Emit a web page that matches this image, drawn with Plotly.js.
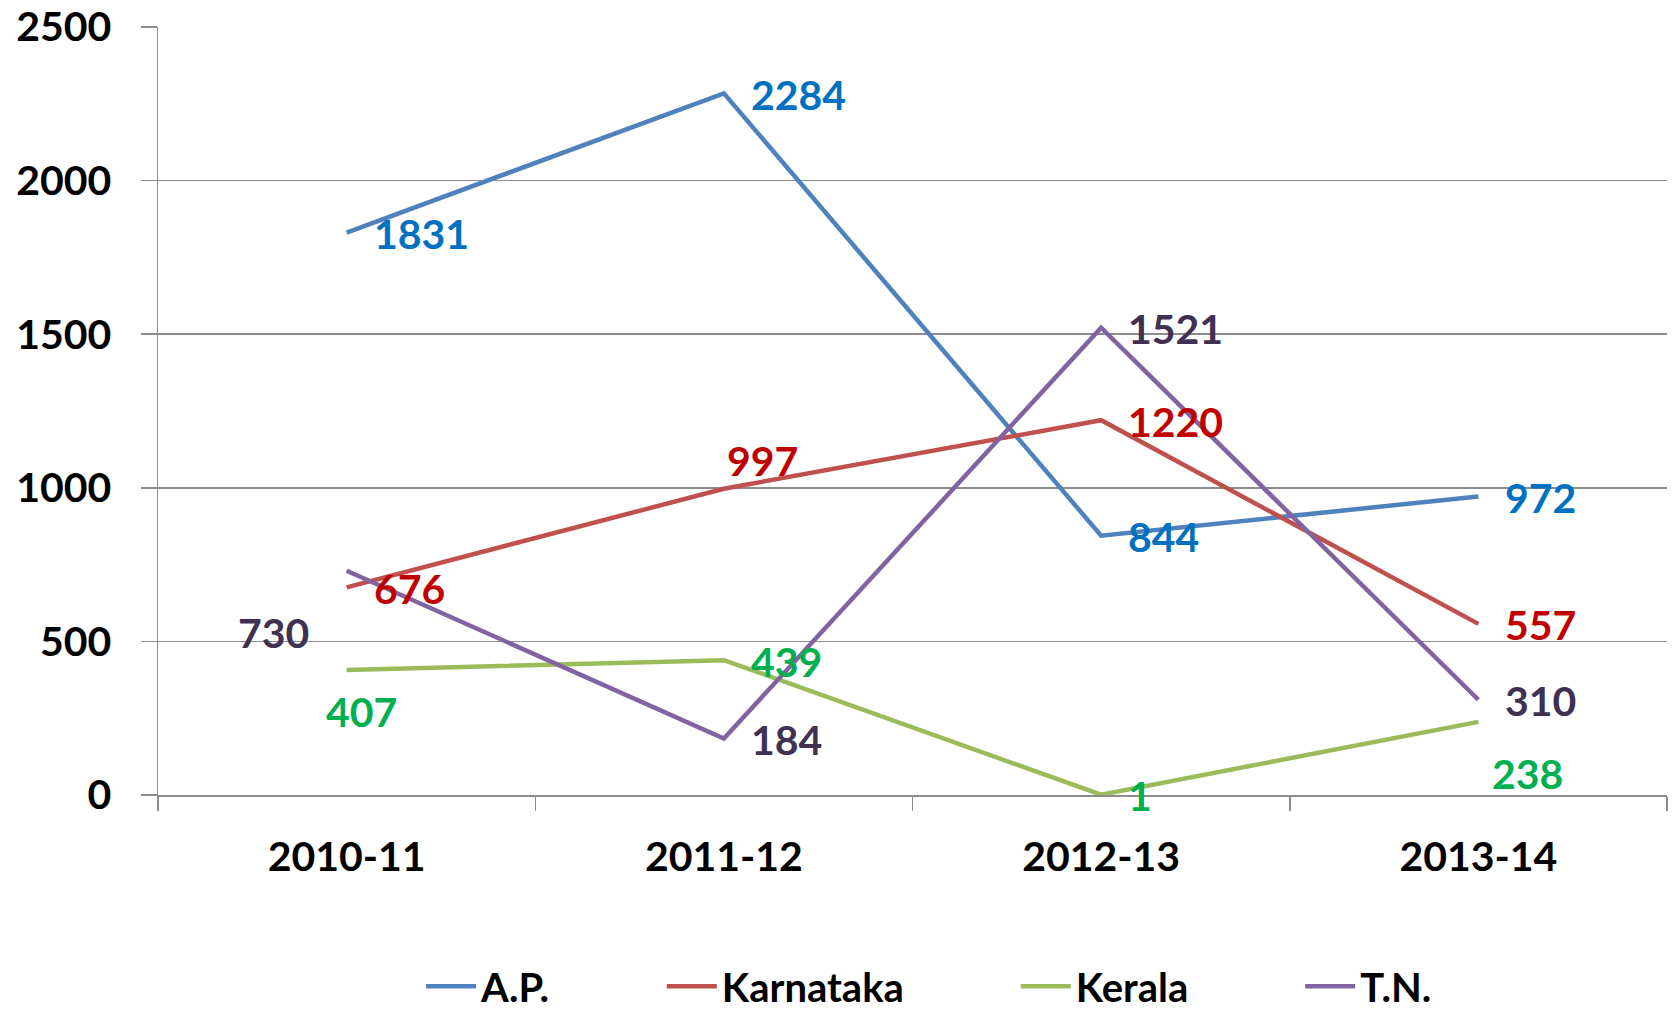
<!DOCTYPE html>
<html><head><meta charset="utf-8">
<script src="https://cdn.plot.ly/plotly-3.0.1.min.js"></script>
<style>html,body{margin:0;padding:0;background:#fff}#chart{width:1673px;height:1019px}</style>
</head><body><div id="chart"></div>
<script>
// ---- data ----
const years = ['2010-11', '2011-12', '2012-13', '2013-14'];
const apValues = [1831, 2284, 844, 972];
const karnatakaValues = [676, 997, 1220, 557];
const keralaValues = [407, 439, 1, 238];
const tnValues = [730, 184, 1521, 310];
const seriesNames = ['A.P.', 'Karnataka', 'Kerala', 'T.N.'];
const yTickValues = [0, 500, 1000, 1500, 2000, 2500];

// ---- styles ----
const lineColors = ['#4F81BD', '#C0504D', '#9BBB59', '#8064A2'];
const labelColors = ['#0070C0', '#C00000', '#00B050', '#403152'];
const gridGray = '#8c8c8c';
const FONT = 'Lato, "Open Sans", sans-serif';
const DEF = ['left', 25, -1];
// per series, per point: [xanchor, xshift px, yshift px]
const labelPlacement = [
  [DEF, DEF, DEF, DEF],
  [DEF, ['left', 1, 28], DEF, DEF],
  [['center', 15, -42], DEF, DEF, ['center', 49, -52]],
  [['center', -73, -62], DEF, DEF, DEF]
];
const NB = '\u00A0';
const legendPad = NB.repeat(11);

const allValues = [apValues, karnatakaValues, keralaValues, tnValues];

const traces = allValues.map((vals, i) => ({
  type: 'scatter',
  mode: 'lines',
  x: years,
  y: vals,
  name: seriesNames[i] + (i < 3 ? legendPad : ''),
  line: {color: lineColors[i], width: 4.5},
  hoverinfo: 'skip'
}));

const annotations = [];
allValues.forEach((vals, i) => {
  vals.forEach((v, j) => {
    const p = labelPlacement[i][j];
    annotations.push({
      xref: 'x', yref: 'y', x: years[j], y: v,
      text: String(v), showarrow: false,
      xanchor: p[0], yanchor: 'middle', xshift: p[1], yshift: p[2],
      font: {family: FONT, size: 41, weight: 700, color: labelColors[i]}
    });
  });
});

const tickFont = {family: FONT, size: 41, weight: 700, color: '#000'};

const layout = {
  width: 1673, height: 1019,
  paper_bgcolor: '#fff', plot_bgcolor: '#fff',
  margin: {l: 158, r: 6, t: 27, b: 224, autoexpand: false},
  showlegend: true,
  legend: {
    orientation: 'h', x: 0.511, xanchor: 'center', y: -0.2915, yanchor: 'bottom',
    font: {family: FONT, size: 40, weight: 700, color: '#000'},
    itemwidth: 50, bgcolor: 'rgba(0,0,0,0)', borderwidth: 0
  },
  xaxis: {
    type: 'category', range: [-0.5, 3.5], tickson: 'boundaries',
    ticks: 'outside', ticklen: 14, tickwidth: 1.5, tickcolor: gridGray,
    showline: true, linecolor: gridGray, linewidth: 1.5,
    showgrid: false, zeroline: false, tickfont: tickFont,
    ticklabelstandoff: 25, fixedrange: true, automargin: false
  },
  yaxis: {
    range: [0, 2500], tickmode: 'array', tickvals: yTickValues,
    ticktext: yTickValues.map(String),
    ticks: 'outside', ticklen: 16, tickwidth: 1.5, tickcolor: gridGray,
    showline: true, linecolor: gridGray, linewidth: 1.5,
    showgrid: true, gridcolor: gridGray, gridwidth: 1.5,
    zeroline: false, tickfont: tickFont, ticklabelstandoff: 21, fixedrange: true, automargin: false
  },
  annotations: annotations,
  hovermode: false
};

Plotly.newPlot('chart', traces, layout, {displayModeBar: false, staticPlot: true});
</script>
</body></html>
